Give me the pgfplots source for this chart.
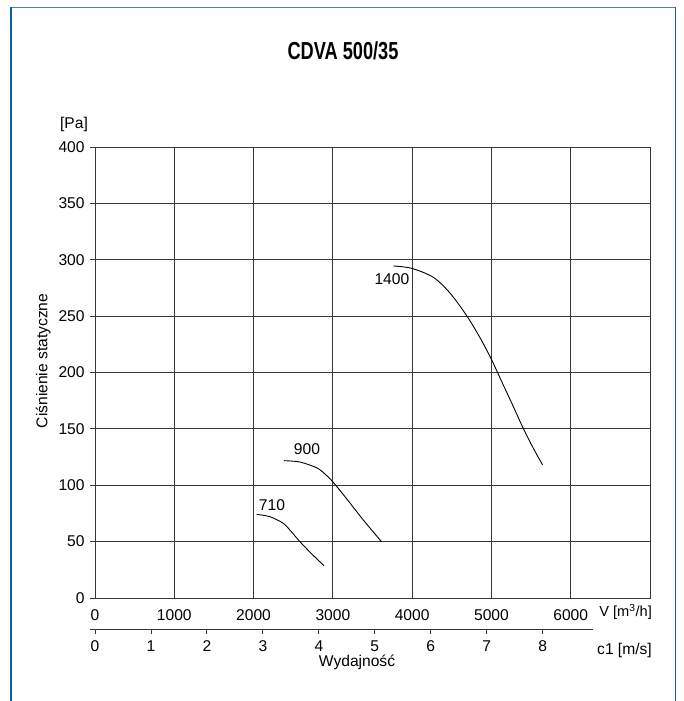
\documentclass[border=0pt]{standalone}
\usepackage{pgfplots}
\pgfplotsset{compat=1.18}
\usepackage{fontspec}
\setmainfont{Liberation Sans}
\definecolor{frameA}{RGB}{20,90,165}
\definecolor{frameB}{RGB}{75,130,180}
\definecolor{gridc}{RGB}{55,55,55}
\begin{document}
\fontsize{15.6}{18}\selectfont
\begin{tikzpicture}[x=1pt,y=1pt]
\useasboundingbox (0,0) rectangle (683,701);
\draw[frameB,line width=1.6pt] (11,693.5) -- (675.5,693.5);
\draw[frameA,line width=1.2pt] (11,-2) -- (11,694.3);
\draw[frameA,line width=1.2pt] (675.5,-2) -- (675.5,694.3);
\node at (343,650.5) {\scalebox{0.74}[1]{\fontsize{24.6}{28}\selectfont\bfseries CDVA 500/35}};
\begin{axis}[at={(95pt,103pt)}, anchor=south west, scale only axis,
  width=555pt, height=451pt,
  xmin=0, xmax=7000, ymin=0, ymax=400,
  xtick={0,1000,...,6000}, ytick={0,50,...,400},
  grid=major, major grid style={gridc, line width=0.9pt},
  axis line style={gridc, line width=0.9pt},
  ytick pos=left, tick align=outside, major tick length=5pt,
  xtick style={draw=none}, ytick style={gridc, line width=0.9pt},
  /pgf/number format/assume math mode=true,
  /pgf/number format/1000 sep={},
  ticklabel style={font=\fontsize{15.6}{18}\selectfont},
  xticklabel style={yshift=-1pt},
  clip=false]
\addplot[smooth, black, line width=0.9pt] coordinates {
(3762,294.5)(3993,292.4)(4266,284.5)(4477,270.5)(4687,250.5)(4855,231)(5001,211.5)(5149,189)(5275,170)(5401,150.5)(5527,133)(5645,118)};
\addplot[smooth, black, line width=0.9pt] coordinates {
(2383,121.8)(2585,120.6)(2796,115.5)(2900,110)(3006,102.5)(3174,88)(3384,69.2)(3614,49.9)};
\addplot[smooth, black, line width=0.9pt] coordinates {
(2039,74.2)(2207,72.1)(2375,66.2)(2480,58.5)(2585,49.9)(2732,39.2)(2888,28.7)};
\node at (axis cs:2232,82.5) {710};
\node at (axis cs:2673,132.2) {900};
\node at (axis cs:3745,283) {1400};
\end{axis}
\begin{axis}[at={(90pt,72pt)}, anchor=south west, scale only axis,
  width=503pt, height=1pt,
  xmin=-0.0894, xmax=8.899, ymin=0, ymax=1,
  axis x line*=bottom, axis y line=none, ytick=\empty,
  xtick={0,...,8}, tick align=outside, major tick length=5pt,
  axis line style={gridc, line width=0.9pt},
  xtick style={gridc, line width=0.9pt},
  /pgf/number format/assume math mode=true,
  ticklabel style={font=\fontsize{15.6}{18}\selectfont},
  xticklabel style={yshift=-1pt}]
\addplot[draw=none] coordinates {(0,0)(8,1)};
\end{axis}
\node[anchor=east, inner sep=0pt, font=\fontsize{14.6}{17}\selectfont] at (652,89) {V [m\textsuperscript{3}/h]};
\node[anchor=east, inner sep=0pt] at (652,51) {c1 [m/s]};
\node at (357,39) {Wydajność};
\node at (74,577) {[Pa]};
\node[rotate=90] at (43.3,340) {Ciśnienie statyczne};
\end{tikzpicture}
\end{document}
